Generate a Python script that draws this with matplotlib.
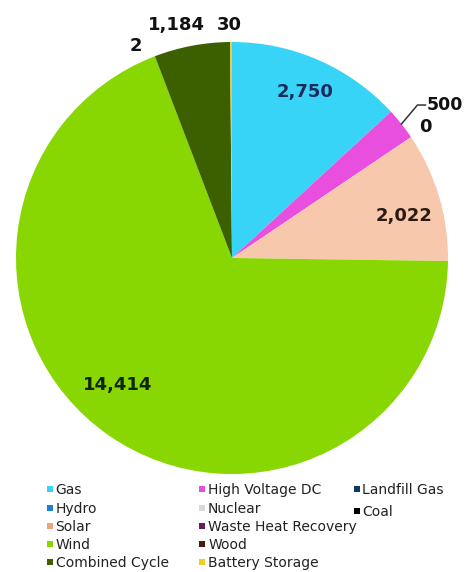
import matplotlib

matplotlib.use("Agg")
import matplotlib.pyplot as plt
from matplotlib.lines import Line2D
import numpy as np

plt.rcParams["font.family"] = ["DejaVu Sans"]

# Pie slices, clockwise from 12 o'clock
slice_names = ["Gas", "High Voltage DC", "Hydro", "Solar", "Wind", "Wood",
               "Combined Cycle", "Battery Storage"]
slice_values = [2750, 500, 0, 2022, 14414, 2, 1184, 30]
slice_labels = ["2,750", "500", "0", "2,022", "14,414", "2", "1,184", "30"]

# Legend entries (three columns)
legend_cols = [
    ["Gas", "Hydro", "Solar", "Wind", "Combined Cycle"],
    ["High Voltage DC", "Nuclear", "Waste Heat Recovery", "Wood", "Battery Storage"],
    ["Landfill Gas", "Coal"],
]

colours = {
    "Gas": "#38d4f7",
    "Hydro": "#1c80d6",
    "Solar": "#f8c8ad",
    "Wind": "#88d602",
    "Combined Cycle": "#3c6000",
    "High Voltage DC": "#e84fdf",
    "Nuclear": "#d9d9d9",
    "Waste Heat Recovery": "#6a1a5a",
    "Wood": "#4a1a12",
    "Battery Storage": "#f2cc2a",
    "Landfill Gas": "#0e3a5e",
    "Coal": "#000000",
}
legend_marker = dict(colours, Solar="#eda283")

# label placement: (radius factor, clockwise shift in deg, text colour)
label_style = {
    "2,750": (0.84, 0.0, "#1b2a5a"),
    "2,022": (0.82, 3.0, "#2a1a12"),
    "14,414": (0.79, 7.0, "#0f2600"),
    "500": (None, 0.0, "#111111"),
    "0": (1.08, 0.0, "#111111"),
    "2": (1.08, -3.5, "#111111"),
    "1,184": (1.11, -2.6, "#111111"),
    "30": (1.08, -0.4, "#111111"),
}

W, H = 465, 572
fig = plt.figure(figsize=(W / 100, H / 100), dpi=100)
ax = fig.add_axes([0, 0, 1, 1])

centre = (232, H - 258)
radius = 216

wedges, _ = ax.pie(
    slice_values,
    colors=[colours[n] for n in slice_names],
    startangle=90,
    counterclock=False,
    center=centre,
    radius=radius,
    wedgeprops=dict(linewidth=0),
    frame=True,
)
ax.set_xlim(0, W)
ax.set_ylim(0, H)
ax.set_aspect("equal")
ax.axis("off")

for wedge, text in zip(wedges, slice_labels):
    mid = np.deg2rad((wedge.theta1 + wedge.theta2) / 2)
    rf, shift, col = label_style[text]
    if rf is None:
        # leader line for the small HVDC slice
        x0 = centre[0] + radius * np.cos(mid)
        y0 = centre[1] + radius * np.sin(mid)
        x1, y1 = x0 + 16, y0 + 19
        ax.plot([x0, x1, x1 + 8], [y0, y1, y1], color="#333333", lw=1.1)
        ax.text(x1 + 9, y1, text, ha="left", va="center", fontsize=12.5,
                fontweight="bold", color=col)
        continue
    ang = mid - np.deg2rad(shift)
    x = centre[0] + rf * radius * np.cos(ang)
    y = centre[1] + rf * radius * np.sin(ang)
    ax.text(x, y, text, ha="center", va="center", fontsize=13,
            fontweight="bold", color=col)

col_x = [0.1, 0.428, 0.76]
spacings = [0.3, 0.3, 0.53]
for cx, names, sp in zip(col_x, legend_cols, spacings):
    handles = [Line2D([], [], marker="s", linestyle="none", markersize=4.4,
                      markerfacecolor=legend_marker[n], markeredgewidth=0)
               for n in names]
    leg = fig.legend(handles, names, loc="upper left", bbox_to_anchor=(cx, 0.155),
                     frameon=False, fontsize=10, handlelength=0.45,
                     handletextpad=0.2, labelspacing=sp, borderpad=0,
                     borderaxespad=0)
    for t in leg.get_texts():
        t.set_color("#222222")

fig.savefig("out.png", dpi=100)
